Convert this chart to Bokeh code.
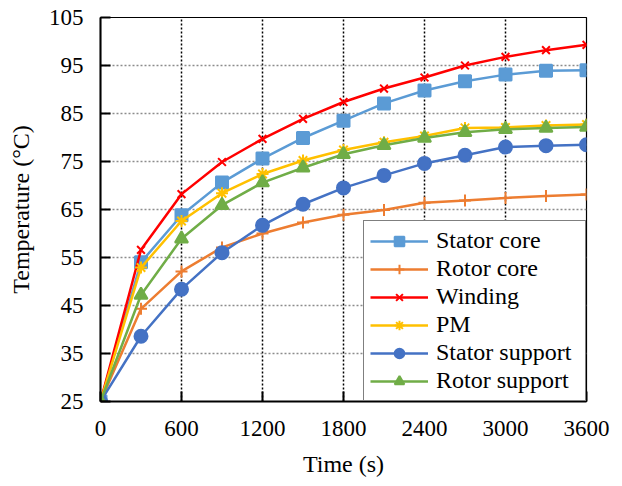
from bokeh.plotting import figure
from bokeh.models import FixedTicker, Range1d, Legend, LegendItem
from bokeh.embed import file_html
from bokeh.resources import INLINE

# Time samples (s) and node temperatures (°C)
time_s = [0, 300, 600, 900, 1200, 1500, 1800, 2100, 2400, 2700, 3000, 3300, 3600]
stator_core = [25, 54.0, 63.8, 70.6, 75.6, 79.9, 83.5, 87.1, 89.8, 91.7, 93.1, 93.9, 94.0]
rotor_core = [25, 44.3, 52.1, 57.1, 60.0, 62.3, 63.9, 64.9, 66.4, 66.9, 67.4, 67.8, 68.1]
winding = [25, 56.6, 68.2, 74.9, 79.7, 83.9, 87.4, 90.2, 92.5, 95.0, 96.8, 98.2, 99.3]
pm = [25, 52.9, 62.6, 68.4, 72.4, 75.2, 77.4, 79.0, 80.3, 82.0, 82.1, 82.5, 82.7]
stator_support = [25, 38.6, 48.4, 56.0, 61.7, 66.1, 69.5, 72.1, 74.6, 76.3, 78.0, 78.3, 78.5]
rotor_support = [25, 47.2, 58.9, 65.9, 70.6, 73.7, 76.5, 78.4, 79.9, 81.1, 81.7, 82.0, 82.2]

x_ticks = [0, 600, 1200, 1800, 2400, 3000, 3600]
y_ticks = [25, 35, 45, 55, 65, 75, 85, 95, 105]

series = [
    ("Stator core", stator_core, "#5B9BD5", "square", 12),
    ("Rotor core", rotor_core, "#ED7D31", "cross", 12),
    ("Winding", winding, "#FF0000", "x", 11),
    ("PM", pm, "#FFC000", "asterisk", 12),
    ("Stator support", stator_support, "#4472C4", "circle", 13),
    ("Rotor support", rotor_support, "#70AD47", "triangle", 13),
]

FONT = "Liberation Serif"

p = figure(width=622, height=486, output_backend="svg", toolbar_location=None,
           x_range=Range1d(0, 3600), y_range=Range1d(25, 105),
           min_border_left=100, min_border_right=36, min_border_top=17,
           min_border_bottom=85)

p.outline_line_color = "black"
p.outline_line_width = 1.2

# grid: black dotted verticals, grey dotted horizontals
p.xgrid.ticker = FixedTicker(ticks=x_ticks)
p.ygrid.ticker = FixedTicker(ticks=y_ticks)
p.xgrid.grid_line_color = "black"
p.xgrid.grid_line_dash = "2 2"
p.xgrid.grid_line_width = 1.5
p.ygrid.grid_line_color = "#8c8c8c"
p.ygrid.grid_line_dash = "2 2"
p.ygrid.grid_line_width = 1.5

for ax, ticks in ((p.xaxis[0], x_ticks), (p.yaxis[0], y_ticks)):
    ax.ticker = FixedTicker(ticks=ticks)
    ax.axis_line_color = "black"
    ax.axis_line_width = 2
    ax.major_tick_line_color = "black"
    ax.major_tick_line_width = 2
    ax.major_tick_in = 10
    ax.major_tick_out = 0
    ax.minor_tick_line_color = None
    ax.major_label_text_font = FONT
    ax.major_label_text_font_size = "23px"
    ax.major_label_text_color = "black"
    ax.axis_label_text_font = FONT
    ax.axis_label_text_font_size = "24px"
    ax.axis_label_text_font_style = "normal"
    ax.axis_label_text_color = "black"

p.xaxis.axis_label = "Time (s)"
p.yaxis.axis_label = "Temperature (°C)"
p.xaxis.major_label_standoff = 19
p.yaxis.major_label_standoff = 17
p.xaxis.axis_label_standoff = 12
p.yaxis.axis_label_standoff = 12

items = []
for name, vals, color, marker, size in series:
    r_line = p.line(time_s, vals, line_color=color, line_width=2.5)
    r_mark = p.scatter(time_s, vals, marker=marker, size=size,
                       fill_color=color, line_color=color, line_width=2)
    items.append(LegendItem(label=name, renderers=[r_line, r_mark]))

legend = Legend(items=items, location="bottom_right", margin=0,
                padding=6, spacing=1, glyph_width=58, glyph_height=24,
                label_height=24, label_width=143, label_standoff=8,
                label_text_font=FONT, label_text_font_size="24px",
                label_text_color="black",
                border_line_color="black", border_line_width=1.5,
                background_fill_color="white", background_fill_alpha=1.0)
p.add_layout(legend, "center")

open("out.html", "w").write(file_html(p, INLINE))
